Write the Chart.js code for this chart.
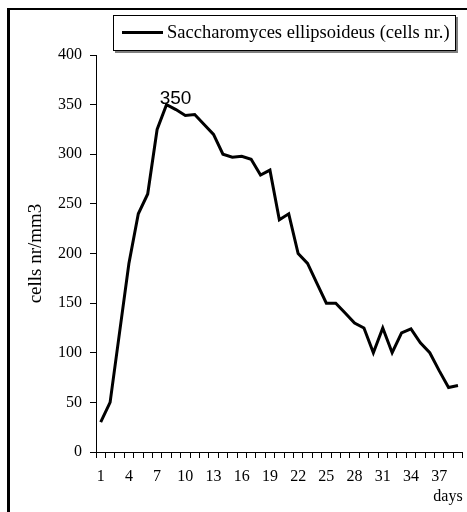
<!DOCTYPE html>
<html>
<head>
<meta charset="utf-8">
<script src="https://cdn.jsdelivr.net/npm/chart.js@4"></script>
<style>
  html, body { margin: 0; padding: 0; background: #fff; }
  #wrap { position: relative; width: 467px; height: 512px; overflow: hidden; }
  #frame { position: absolute; left: 7px; top: 8px; width: 480px; height: 520px;
           border-left: 3px solid #000; border-top: 2px solid #000; pointer-events: none; }
</style>
</head>
<body>
<div id="wrap">
  <canvas id="chart"></canvas>
  <div id="frame"></div>
</div>
<script>
// dane
const days = ['1','2','3','4','5','6','7','8','9','10','11','12','13','14','15','16','17','18','19','20',
              '21','22','23','24','25','26','27','28','29','30','31','32','33','34','35','36','37','38','39'];
const cellCounts = [30, 50, 120, 190, 240, 260, 325, 350, 345, 339, 340, 330, 320, 300, 297, 298, 295, 279, 284, 234,
                    240, 200, 190, 170, 150, 150, 140, 130, 125, 100, 125, 100, 120, 124, 110, 100, 82, 65, 67];
const dayLabels = ['1','4','7','10','13','16','19','22','25','28','31','34','37'];
const yTicks = [0, 50, 100, 150, 200, 250, 300, 350, 400];
const seriesName = 'Saccharomyces ellipsoideus (cells nr.)';

const serif = "'Liberation Serif', 'Times New Roman', serif";

// ramka legendy z cieniem
const legendBox = {
  id: 'legendBox',
  afterDraw(chart) {
    const ctx = chart.ctx;
    ctx.save();
    ctx.fillStyle = '#7f7f7f';
    ctx.fillRect(115, 17, 343, 36);
    ctx.fillStyle = '#fff';
    ctx.fillRect(113, 15, 343, 36);
    ctx.strokeStyle = '#000';
    ctx.lineWidth = 1;
    ctx.strokeRect(113.5, 15.5, 342, 35);
    ctx.lineWidth = 3;
    ctx.beginPath();
    ctx.moveTo(122, 32.5);
    ctx.lineTo(163, 32.5);
    ctx.stroke();
    ctx.fillStyle = '#000';
    ctx.font = '18.5px ' + serif;
    ctx.textBaseline = 'middle';
    ctx.fillText(chart.data.datasets[0].label, 167, 33);
    ctx.restore();
  }
};

// etykieta maksimum
const peakLabel = {
  id: 'peakLabel',
  afterDatasetsDraw(chart) {
    const data = chart.data.datasets[0].data;
    const i = data.indexOf(Math.max(...data));
    const pt = chart.getDatasetMeta(0).data[i];
    const ctx = chart.ctx;
    ctx.save();
    ctx.fillStyle = '#000';
    ctx.font = "19px 'Liberation Sans', Arial, sans-serif";
    ctx.textAlign = 'center';
    ctx.textBaseline = 'alphabetic';
    ctx.fillText(String(data[i]), pt.x + 9, pt.y - 1);
    ctx.restore();
  }
};

new Chart(document.getElementById('chart'), {
  type: 'line',
  data: {
    labels: days,
    datasets: [{
      label: seriesName,
      data: cellCounts,
      borderColor: '#000',
      borderWidth: 3,
      pointRadius: 0,
      tension: 0,
      fill: false
    }]
  },
  options: {
    responsive: true,
    maintainAspectRatio: false,
    animation: false,
    layout: { padding: { top: 55, right: 2, left: 0, bottom: 0 } },
    plugins: {
      legend: { display: false },
      tooltip: { enabled: false }
    },
    scales: {
      x: {
        offset: true,
        grid: { offset: true, drawOnChartArea: false, color: '#000', tickLength: 6, tickWidth: 1 },
        border: { display: true, color: '#000', width: 1 },
        ticks: {
          autoSkip: false,
          maxRotation: 0,
          color: '#000',
          padding: 9,
          font: { family: serif, size: 16 },
          callback: function (value, index) {
            const lbl = this.getLabelForValue(value);
            return dayLabels.includes(lbl) ? lbl : '';
          }
        },
        title: {
          display: true,
          text: 'days',
          align: 'end',
          color: '#000',
          padding: { top: 0, bottom: 6 },
          font: { family: serif, size: 16 }
        },
        afterFit: s => { s.height = 60; }
      },
      y: {
        min: 0,
        max: 400,
        afterBuildTicks: s => { s.ticks = yTicks.map(v => ({ value: v })); },
        grid: { drawOnChartArea: false, color: '#000', tickLength: 6 },
        border: { display: true, color: '#000', width: 1 },
        ticks: {
          color: '#000',
          padding: 8,
          font: { family: serif, size: 16 }
        },
        title: {
          display: true,
          text: 'cells nr/mm3',
          color: '#000',
          padding: { top: 25, bottom: 0 },
          font: { family: serif, size: 19 }
        },
        afterFit: s => { s.width = 96; }
      }
    }
  },
  plugins: [legendBox, peakLabel]
});
</script>
</body>
</html>
